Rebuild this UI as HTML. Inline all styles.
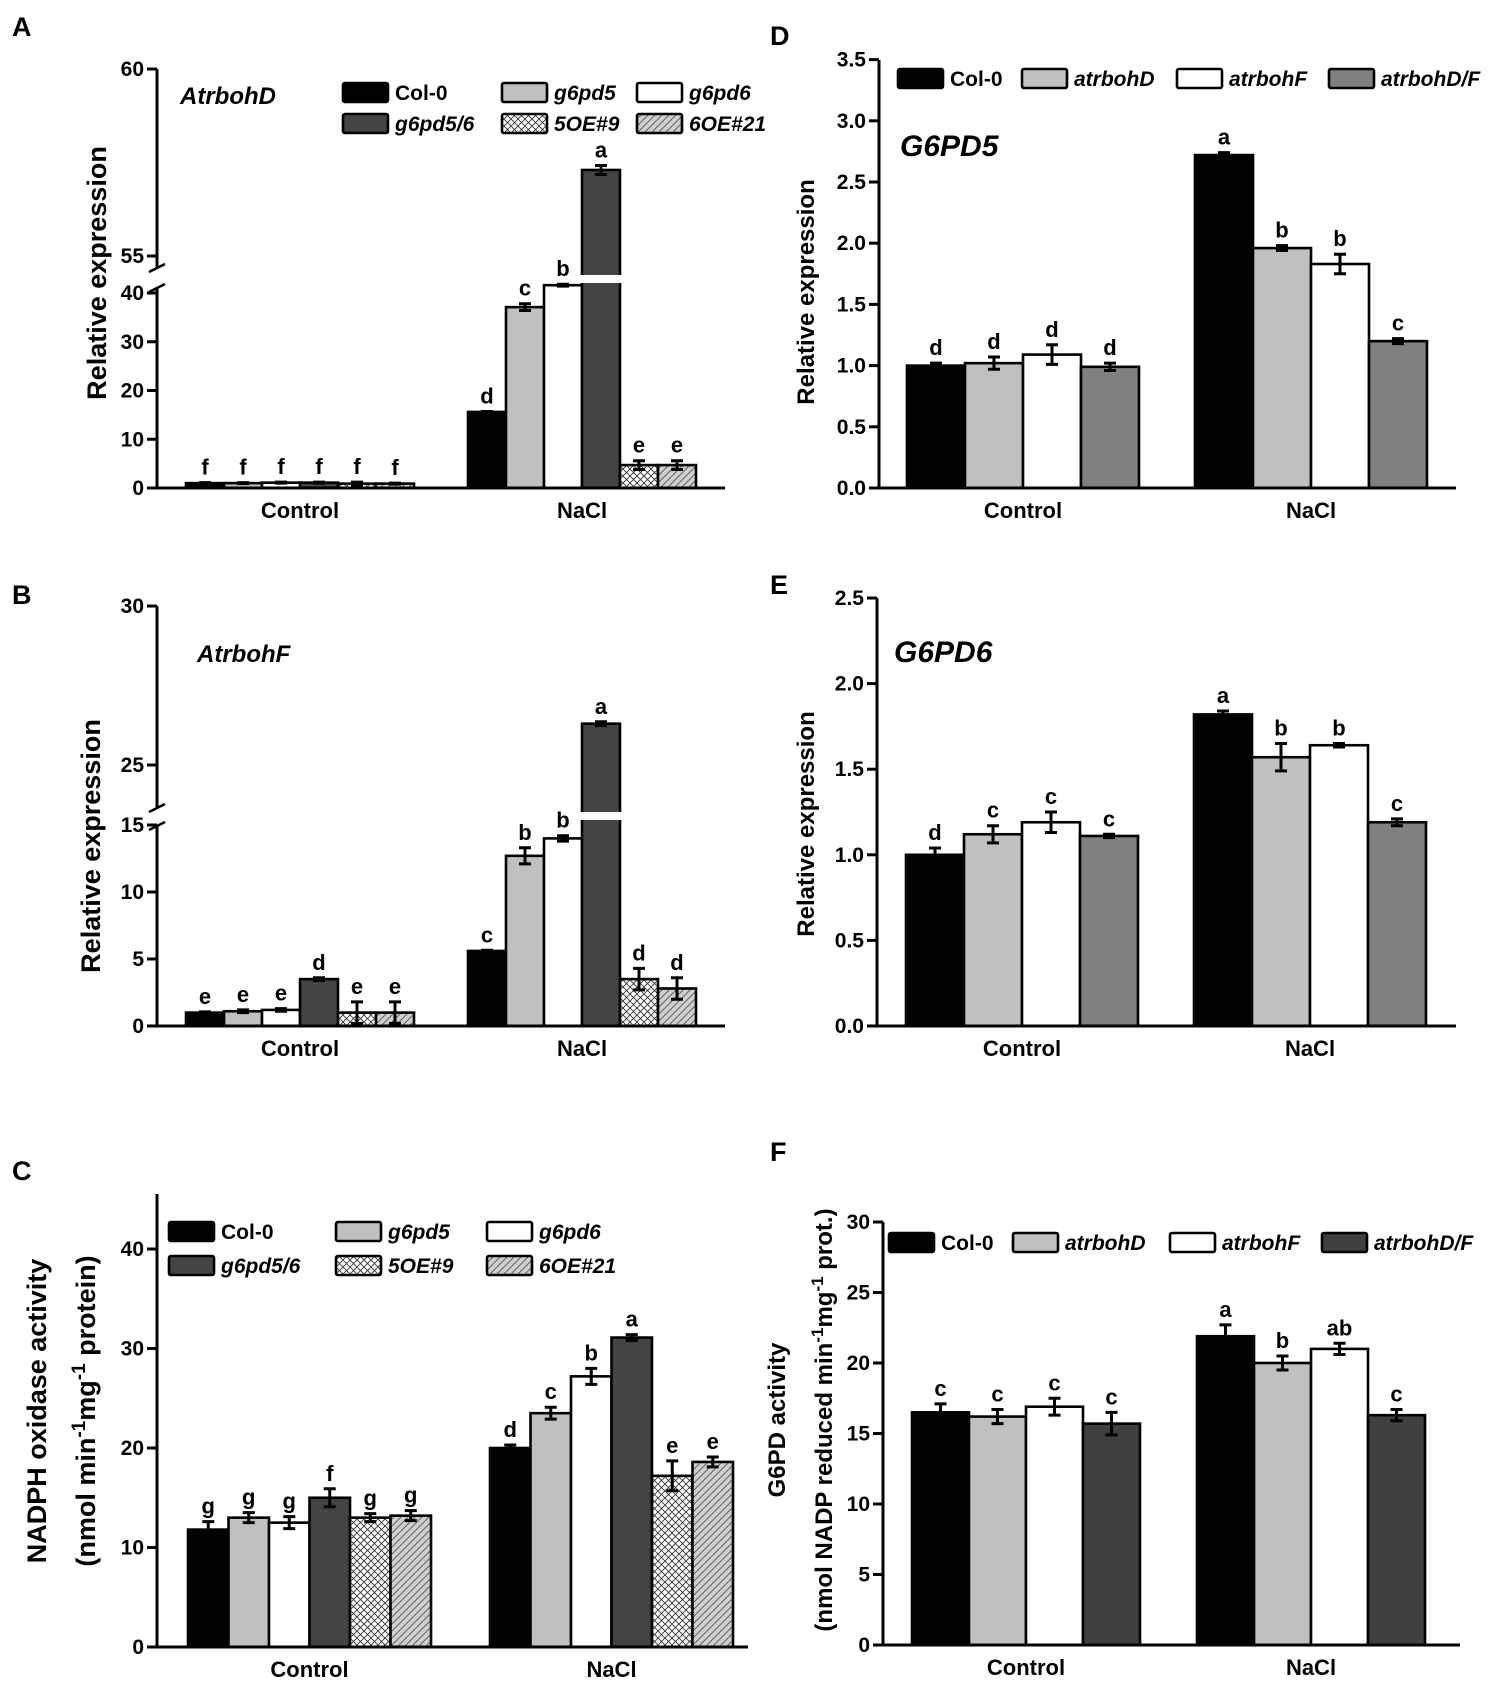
<!DOCTYPE html>
<html><head><meta charset="utf-8"><style>
html,body{margin:0;padding:0;background:#fff;}
svg{display:block;font-family:"Liberation Sans",Arial,sans-serif;font-weight:bold;}
</style></head><body>
<svg id="fig" width="1508" height="1685" viewBox="0 0 1508 1685" xmlns="http://www.w3.org/2000/svg">
<defs>
<pattern id="cross" width="7" height="7" patternUnits="userSpaceOnUse">
<rect width="7" height="7" fill="#fff"/>
<path d="M0,0 L7,7 M7,0 L0,7" stroke="#333" stroke-width="0.9"/>
</pattern>
<pattern id="diag" width="7" height="7" patternUnits="userSpaceOnUse">
<rect width="7" height="7" fill="#cfcfcf"/>
<path d="M-1,8 L8,-1 M-1,1 L1,-1 M6,8 L8,6" stroke="#555" stroke-width="0.9"/>
</pattern>
</defs>
<g id="root"></g>
</svg>
<script>
// ---- Panel A data (AtrbohD) ----
const groups = ['Control', 'NaCl'];
const aCtrl = [1.0, 1.0, 1.1, 1.1, 0.9, 0.9];
const aNacl = [15.6, 37.1, 41.6, 57.3, 4.7, 4.7];
const aErrCtrl = [0.1, 0.1, 0.1, 0.1, 0.3, 0.1];
const aErrNacl = [0.1, 0.7, 0.2, 0.12, 0.9, 0.9];
const aLetCtrl = ['f','f','f','f','f','f'];
const aLetNacl = ['d','c','b','a','e','e'];
const aTicks = [0, 10, 20, 30, 40, 55, 60];
// ---- Panel B data (AtrbohF) ----
const bCtrl = [1.0, 1.1, 1.2, 3.5, 1.0, 1.0];
const bNacl = [5.6, 12.7, 14.0, 26.3, 3.5, 2.8];
const bErrCtrl = [0.05, 0.1, 0.1, 0.1, 0.8, 0.8];
const bErrNacl = [0.05, 0.6, 0.2, 0.06, 0.8, 0.8];
const bLetCtrl = ['e','e','e','d','e','e'];
const bLetNacl = ['c','b','b','a','d','d'];
const bTicks = [0, 5, 10, 15, 25, 30];
// ---- Panel C data (NADPH oxidase) ----
const cCtrl = [11.8, 13.0, 12.5, 15.0, 13.0, 13.2];
const cNacl = [20.0, 23.5, 27.2, 31.1, 17.2, 18.6];
const cErrCtrl = [0.8, 0.5, 0.6, 0.9, 0.4, 0.5];
const cErrNacl = [0.3, 0.6, 0.8, 0.3, 1.5, 0.5];
const cLetCtrl = ['g','g','g','f','g','g'];
const cLetNacl = ['d','c','b','a','e','e'];
const cTicks = [0, 10, 20, 30, 40];
// ---- Panel D data (G6PD5) ----
const dCtrl = [1.0, 1.02, 1.09, 0.99];
const dNacl = [2.72, 1.96, 1.83, 1.20];
const dErrCtrl = [0.02, 0.05, 0.08, 0.03];
const dErrNacl = [0.02, 0.02, 0.08, 0.02];
const dLetCtrl = ['d','d','d','d'];
const dLetNacl = ['a','b','b','c'];
const dTicks = [0, 0.5, 1.0, 1.5, 2.0, 2.5, 3.0, 3.5];
// ---- Panel E data (G6PD6) ----
const eCtrl = [1.0, 1.12, 1.19, 1.11];
const eNacl = [1.82, 1.57, 1.64, 1.19];
const eErrCtrl = [0.04, 0.05, 0.06, 0.01];
const eErrNacl = [0.02, 0.08, 0.01, 0.02];
const eLetCtrl = ['d','c','c','c'];
const eLetNacl = ['a','b','b','c'];
const eTicks = [0, 0.5, 1.0, 1.5, 2.0, 2.5];
// ---- Panel F data (G6PD activity) ----
const fCtrl = [16.5, 16.2, 16.9, 15.7];
const fNacl = [21.9, 20.0, 21.0, 16.3];
const fErrCtrl = [0.6, 0.5, 0.6, 0.8];
const fErrNacl = [0.8, 0.5, 0.4, 0.4];
const fLetCtrl = ['c','c','c','c'];
const fLetNacl = ['a','b','ab','c'];
const fTicks = [0, 5, 10, 15, 20, 25, 30];

const six = ['col0','g6pd5','g6pd6','g6pd56','oe5','oe6'];
const sixFill = {col0:'#000', g6pd5:'#c0c0c0', g6pd6:'#fff', g6pd56:'#444', oe5:'url(#cross)', oe6:'url(#diag)'};

const NS = 'http://www.w3.org/2000/svg';
const root = document.getElementById('root');
function mk(tag, attrs, parent, text){
  const e = document.createElementNS(NS, tag);
  for (const k in attrs) e.setAttribute(k, attrs[k]);
  if (text !== undefined) e.textContent = text;
  (parent || root).appendChild(e);
  return e;
}

function panel(cfg){
  const g = mk('g', {});
  
  
  const L = mk('text', {x: cfg.labX, y: cfg.labY, 'font-size': 27}, g, cfg.id.toUpperCase());
  
  
  const y = cfg.y;
  const sets = [[cfg.ctrl, cfg.errC, cfg.letC, cfg.x0c, 'control'], [cfg.nacl, cfg.errN, cfg.letN, cfg.x0n, 'nacl']];
  sets.forEach(([vals, errs, lets, x0, gname]) => {
    vals.forEach((v, i) => {
      const x = x0 + i * cfg.bw;
      const top = y(v);
      const r = mk('rect', {x: x, y: top, width: cfg.bw, height: cfg.zero - top, fill: cfg.fills[i], stroke: '#000', 'stroke-width': 2.6}, g);
      
      
      if (cfg.gap && top < cfg.gap[0]) {
        const gp = mk('rect', {x: x - 3, y: cfg.gap[0], width: cfg.bw + 6, height: cfg.gap[1] - cfg.gap[0], fill: '#fff'}, g);
        
        
      }
      const cx = x + cfg.bw / 2;
      const yt = y(v + errs[i]), yb = y(v - errs[i]);
      const eb = mk('path', {d: `M${cx},${yt}V${yb}M${cx-6},${yt}h12M${cx-6},${yb}h12`, stroke: '#000', 'stroke-width': 3, fill: 'none'}, g);
      
      
      const t = mk('text', {x: cx, y: Math.min(yt, top) - 8, 'font-size': 22, 'text-anchor': 'middle'}, g, lets[i]);
      
      
    });
  });
  const ax = cfg.axisX;
  let yAxisD = `M${ax},${cfg.zero}V${cfg.axisTop}`;
  if (cfg.brk) yAxisD = `M${ax},${cfg.zero}V${cfg.brk[1]}M${ax},${cfg.brk[0]}V${cfg.axisTop}`;
  const ya = mk('path', {d: yAxisD, stroke: '#000', 'stroke-width': 3, fill: 'none'}, g);
  
  
  if (cfg.brk) {
    const bm = mk('path', {d: `M${ax-8},${cfg.brk[0]+4}L${ax+8},${cfg.brk[0]-4}M${ax-8},${cfg.brk[1]+4}L${ax+8},${cfg.brk[1]-4}`, stroke: '#000', 'stroke-width': 2.5}, g);
    
    
  }
  const xa = mk('line', {x1: ax - 10, y1: cfg.zero, x2: cfg.axisEnd, y2: cfg.zero, stroke: '#000', 'stroke-width': 3}, g);
  
  
  cfg.ticks.forEach(v => {
    const ty = y(v);
    const tl = mk('line', {x1: ax - 10, y1: ty, x2: ax, y2: ty, stroke: '#000', 'stroke-width': 3}, g);
    
    
    const tt = mk('text', {x: ax - 13, y: ty + 7, 'font-size': 21, 'text-anchor': 'end'}, g, cfg.fmt(v));
    
    
  });
  [[cfg.x0c, cfg.ctrl.length], [cfg.x0n, cfg.nacl.length]].forEach(([x0, n], gi) => {
    const t = mk('text', {x: x0 + n * cfg.bw / 2, y: cfg.zero + 30, 'font-size': 22, 'text-anchor': 'middle'}, g, groups[gi]);
    
    
  });
  cfg.ytitles.forEach(yt => {
    const t = mk('text', {x: 0, y: 0, 'font-size': yt.fs, 'text-anchor': 'middle', transform: `translate(${yt.x},${yt.y}) rotate(-90)`}, g);
    t.innerHTML = yt.html;
    
    
  });
  if (cfg.gene) {
    const t = mk('text', {x: cfg.gene.x, y: cfg.gene.y, 'font-size': cfg.gene.fs, 'font-style': 'italic'}, g, cfg.gene.t);
    
    
  }
  (cfg.legend || []).forEach(it => {
    const lg = mk('g', {}, g);
    
    
    mk('rect', {x: it.x, y: it.y, width: 45, height: 19, fill: it.fill, stroke: '#000', 'stroke-width': 2.6, rx: 2}, lg);
    mk('text', {x: it.x + 52, y: it.y + 17, 'font-size': 21, 'font-style': it.it ? 'italic' : 'normal'}, lg, it.t);
  });
}
const f0 = v => String(v);
const f1 = v => v.toFixed(1);

panel({id:'a', labX:12, labY:36, ctrl:aCtrl, nacl:aNacl, errC:aErrCtrl, errN:aErrNacl, letC:aLetCtrl, letN:aLetNacl,
  x0c:186, x0n:468, bw:38, zero:488, axisX:157, axisTop:69, axisEnd:725, ticks:aTicks, fmt:f0,
  y: v => v >= 50 ? 256 - (v - 55) * 37.4 : 488 - v * 4.875,
  gap:[275,283], brk:[268,288],
  keys:six, fills:six.map(k => sixFill[k]),
  ytitles:[{x:106, y:273, fs:27, html:'Relative expression'}],
  gene:{x:180, y:104, fs:24, t:'AtrbohD'},
  legend:[
    {x:343,y:83,fill:sixFill.col0,t:'Col-0',it:false},{x:502,y:83,fill:sixFill.g6pd5,t:'g6pd5',it:true},{x:637,y:83,fill:sixFill.g6pd6,t:'g6pd6',it:true},
    {x:343,y:114,fill:sixFill.g6pd56,t:'g6pd5/6',it:true},{x:502,y:114,fill:sixFill.oe5,t:'5OE#9',it:true},{x:637,y:114,fill:sixFill.oe6,t:'6OE#21',it:true}]
});
panel({id:'b', labX:12, labY:604, ctrl:bCtrl, nacl:bNacl, errC:bErrCtrl, errN:bErrNacl, letC:bLetCtrl, letN:bLetNacl,
  x0c:186, x0n:468, bw:38, zero:1026, axisX:157, axisTop:606, axisEnd:725, ticks:bTicks, fmt:f0,
  y: v => v >= 20 ? 765 - (v - 25) * 31.8 : 1026 - v * 13.4,
  gap:[812,820], brk:[808,826],
  keys:six, fills:six.map(k => sixFill[k]),
  ytitles:[{x:100, y:846, fs:27, html:'Relative expression'}],
  gene:{x:197, y:662, fs:24, t:'AtrbohF'}
});
panel({id:'c', labX:12, labY:1180, ctrl:cCtrl, nacl:cNacl, errC:cErrCtrl, errN:cErrNacl, letC:cLetCtrl, letN:cLetNacl,
  x0c:188, x0n:490, bw:40.5, zero:1647, axisX:157, axisTop:1194, axisEnd:748, ticks:cTicks, fmt:f0,
  y: v => 1647 - v * 9.95,
  keys:six, fills:six.map(k => sixFill[k]),
  ytitles:[{x:46, y:1411, fs:27, html:'NADPH oxidase activity'},
           {x:95, y:1411, fs:27, html:'(nmol  min<tspan dy="-10" font-size="19">-1</tspan><tspan dy="10">mg</tspan><tspan dy="-10" font-size="19">-1</tspan><tspan dy="10"> protein)</tspan>'}],
  legend:[
    {x:169,y:1222,fill:sixFill.col0,t:'Col-0',it:false},{x:336,y:1222,fill:sixFill.g6pd5,t:'g6pd5',it:true},{x:487,y:1222,fill:sixFill.g6pd6,t:'g6pd6',it:true},
    {x:169,y:1256,fill:sixFill.g6pd56,t:'g6pd5/6',it:true},{x:336,y:1256,fill:sixFill.oe5,t:'5OE#9',it:true},{x:487,y:1256,fill:sixFill.oe6,t:'6OE#21',it:true}]
});
const four = ['col0','atrbohd','atrbohf','atrbohdf'];
panel({id:'d', labX:770, labY:45, ctrl:dCtrl, nacl:dNacl, errC:dErrCtrl, errN:dErrNacl, letC:dLetCtrl, letN:dLetNacl,
  x0c:907, x0n:1195, bw:58, zero:488, axisX:879, axisTop:60, axisEnd:1456, ticks:dTicks, fmt:f1,
  y: v => 488 - v * 122.4,
  keys:four, fills:['#000','#c0c0c0','#fff','#808080'],
  ytitles:[{x:814, y:292, fs:24, html:'Relative expression'}],
  gene:{x:900, y:156, fs:30, t:'G6PD5'},
  legend:[{x:898,y:69,fill:'#000',t:'Col-0',it:false},{x:1022,y:69,fill:'#c0c0c0',t:'atrbohD',it:true},
          {x:1177,y:69,fill:'#fff',t:'atrbohF',it:true},{x:1329,y:69,fill:'#808080',t:'atrbohD/F',it:true}]
});
panel({id:'e', labX:770, labY:594, ctrl:eCtrl, nacl:eNacl, errC:eErrCtrl, errN:eErrNacl, letC:eLetCtrl, letN:eLetNacl,
  x0c:906, x0n:1194, bw:58, zero:1026, axisX:877, axisTop:598, axisEnd:1456, ticks:eTicks, fmt:f1,
  y: v => 1026 - v * 171.2,
  keys:four, fills:['#000','#c0c0c0','#fff','#808080'],
  ytitles:[{x:814, y:824, fs:24, html:'Relative expression'}],
  gene:{x:894, y:662, fs:30, t:'G6PD6'}
});
panel({id:'f', labX:770, labY:1161, ctrl:fCtrl, nacl:fNacl, errC:fErrCtrl, errN:fErrNacl, letC:fLetCtrl, letN:fLetNacl,
  x0c:912, x0n:1197, bw:57, zero:1645, axisX:883, axisTop:1222, axisEnd:1460, ticks:fTicks, fmt:f0,
  y: v => 1645 - v * 14.1,
  keys:four, fills:['#000','#c0c0c0','#fff','#404040'],
  ytitles:[{x:785, y:1420, fs:24, html:'G6PD activity'},
           {x:832, y:1420, fs:24, html:'(nmol NADP reduced min<tspan dy="-9" font-size="17">-1</tspan><tspan dy="9">mg</tspan><tspan dy="-9" font-size="17">-1</tspan><tspan dy="9"> prot.)</tspan>'}],
  legend:[{x:889,y:1233,fill:'#000',t:'Col-0',it:false},{x:1013,y:1233,fill:'#c0c0c0',t:'atrbohD',it:true},
          {x:1170,y:1233,fill:'#fff',t:'atrbohF',it:true},{x:1322,y:1233,fill:'#404040',t:'atrbohD/F',it:true}]
});
</script>
</body></html>
